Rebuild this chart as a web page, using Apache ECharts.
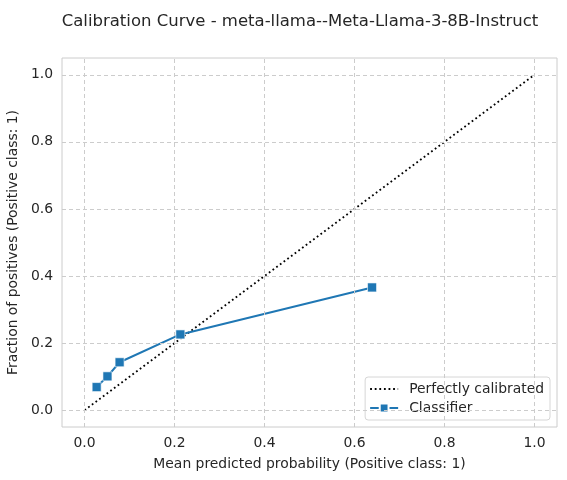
<!DOCTYPE html>
<html>
<head>
<meta charset="utf-8">
<script src="https://cdn.jsdelivr.net/npm/echarts@6/dist/echarts.min.js"></script>
<style>
html, body { margin: 0; padding: 0; background: #fff; }
#chart { width: 567px; height: 480px; }
</style>
</head>
<body>
<div id="chart"></div>
<script>
// values
var meanPredicted = [0.027, 0.051, 0.078, 0.213, 0.639];
var fractionPositives = [0.069, 0.101, 0.143, 0.226, 0.366];
var perfectLine = [[0, 0], [1, 1]];
var tickValues = [0, 0.2, 0.4, 0.6, 0.8, 1.0];

var TEXT_COLOR = '#262626';
var FONT = 'DejaVu Sans';

var classifierData = [];
for (var i = 0; i < meanPredicted.length; i++) {
    classifierData.push([meanPredicted[i], fractionPositives[i]]);
}

// grid lines at the tick values (axis range starts at -0.05)
var gridLines = [];
for (var j = 0; j < tickValues.length; j++) {
    gridLines.push({xAxis: tickValues[j]});
    gridLines.push({yAxis: tickValues[j]});
}

var chart = echarts.init(document.getElementById('chart'));
chart.setOption({
    animation: false,
    backgroundColor: '#fff',
    textStyle: {fontFamily: FONT, color: TEXT_COLOR},
    title: {
        text: 'Calibration Curve - meta-llama--Meta-Llama-3-8B-Instruct',
        left: 295,
        textAlign: 'center',
        top: 8,
        textStyle: {fontFamily: FONT, fontSize: 16.5, fontWeight: 'normal', color: TEXT_COLOR}
    },
    grid: {
        left: 62, right: 10, top: 58, bottom: 53,
        outerBoundsMode: 'none',
        containLabel: false,
        show: true,
        borderColor: '#cccccc',
        borderWidth: 1
    },
    xAxis: {
        type: 'value',
        min: -0.05,
        max: 1.05,
        name: 'Mean predicted probability (Positive class: 1)',
        nameLocation: 'middle',
        nameGap: 30,
        nameTextStyle: {fontFamily: FONT, fontSize: 13.9, color: TEXT_COLOR},
        axisLine: {show: false},
        axisTick: {show: false},
        splitLine: {show: false},
        axisLabel: {
            customValues: tickValues,
            fontFamily: FONT, fontSize: 13.9, color: TEXT_COLOR, margin: 9,
            formatter: function (v) { return v.toFixed(1); }
        }
    },
    yAxis: {
        type: 'value',
        min: -0.05,
        max: 1.05,
        name: 'Fraction of positives (Positive class: 1)',
        nameLocation: 'middle',
        nameGap: 36,
        nameTextStyle: {fontFamily: FONT, fontSize: 13.9, color: TEXT_COLOR},
        axisLine: {show: false},
        axisTick: {show: false},
        splitLine: {show: false},
        axisLabel: {
            customValues: tickValues,
            fontFamily: FONT, fontSize: 13.9, color: TEXT_COLOR, margin: 9,
            formatter: function (v) { return v.toFixed(1); }
        }
    },
    legend: {
        right: 17,
        bottom: 60,
        orient: 'vertical',
        backgroundColor: '#fff',
        borderColor: '#d6d6d6',
        borderWidth: 1,
        borderRadius: 3,
        padding: [5, 6, 5, 4],
        itemGap: 5,
        itemWidth: 28,
        itemHeight: 11,
        textStyle: {fontFamily: FONT, fontSize: 13.9, color: TEXT_COLOR, padding: [0, 0, 0, 6]},
        data: [
            {name: 'Perfectly calibrated', itemStyle: {opacity: 0}},
            {name: 'Classifier'}
        ]
    },
    series: [
        {
            name: 'grid',
            type: 'line',
            data: [],
            silent: true,
            markLine: {
                silent: true,
                symbol: 'none',
                label: {show: false},
                lineStyle: {color: '#cccccc', type: [4, 3], width: 1},
                data: gridLines
            }
        },
        {
            name: 'Perfectly calibrated',
            type: 'line',
            data: perfectLine,
            symbol: 'none',
            lineStyle: {color: '#000', width: 1.8, type: [1.8, 2.8]},
            itemStyle: {color: '#000'}
        },
        {
            name: 'Classifier',
            type: 'line',
            data: classifierData,
            symbol: 'rect',
            symbolSize: 9,
            lineStyle: {color: '#1f77b4', width: 2},
            itemStyle: {color: '#1f77b4', borderColor: '#ffffff', borderWidth: 0.6}
        }
    ]
});
</script>
</body>
</html>
